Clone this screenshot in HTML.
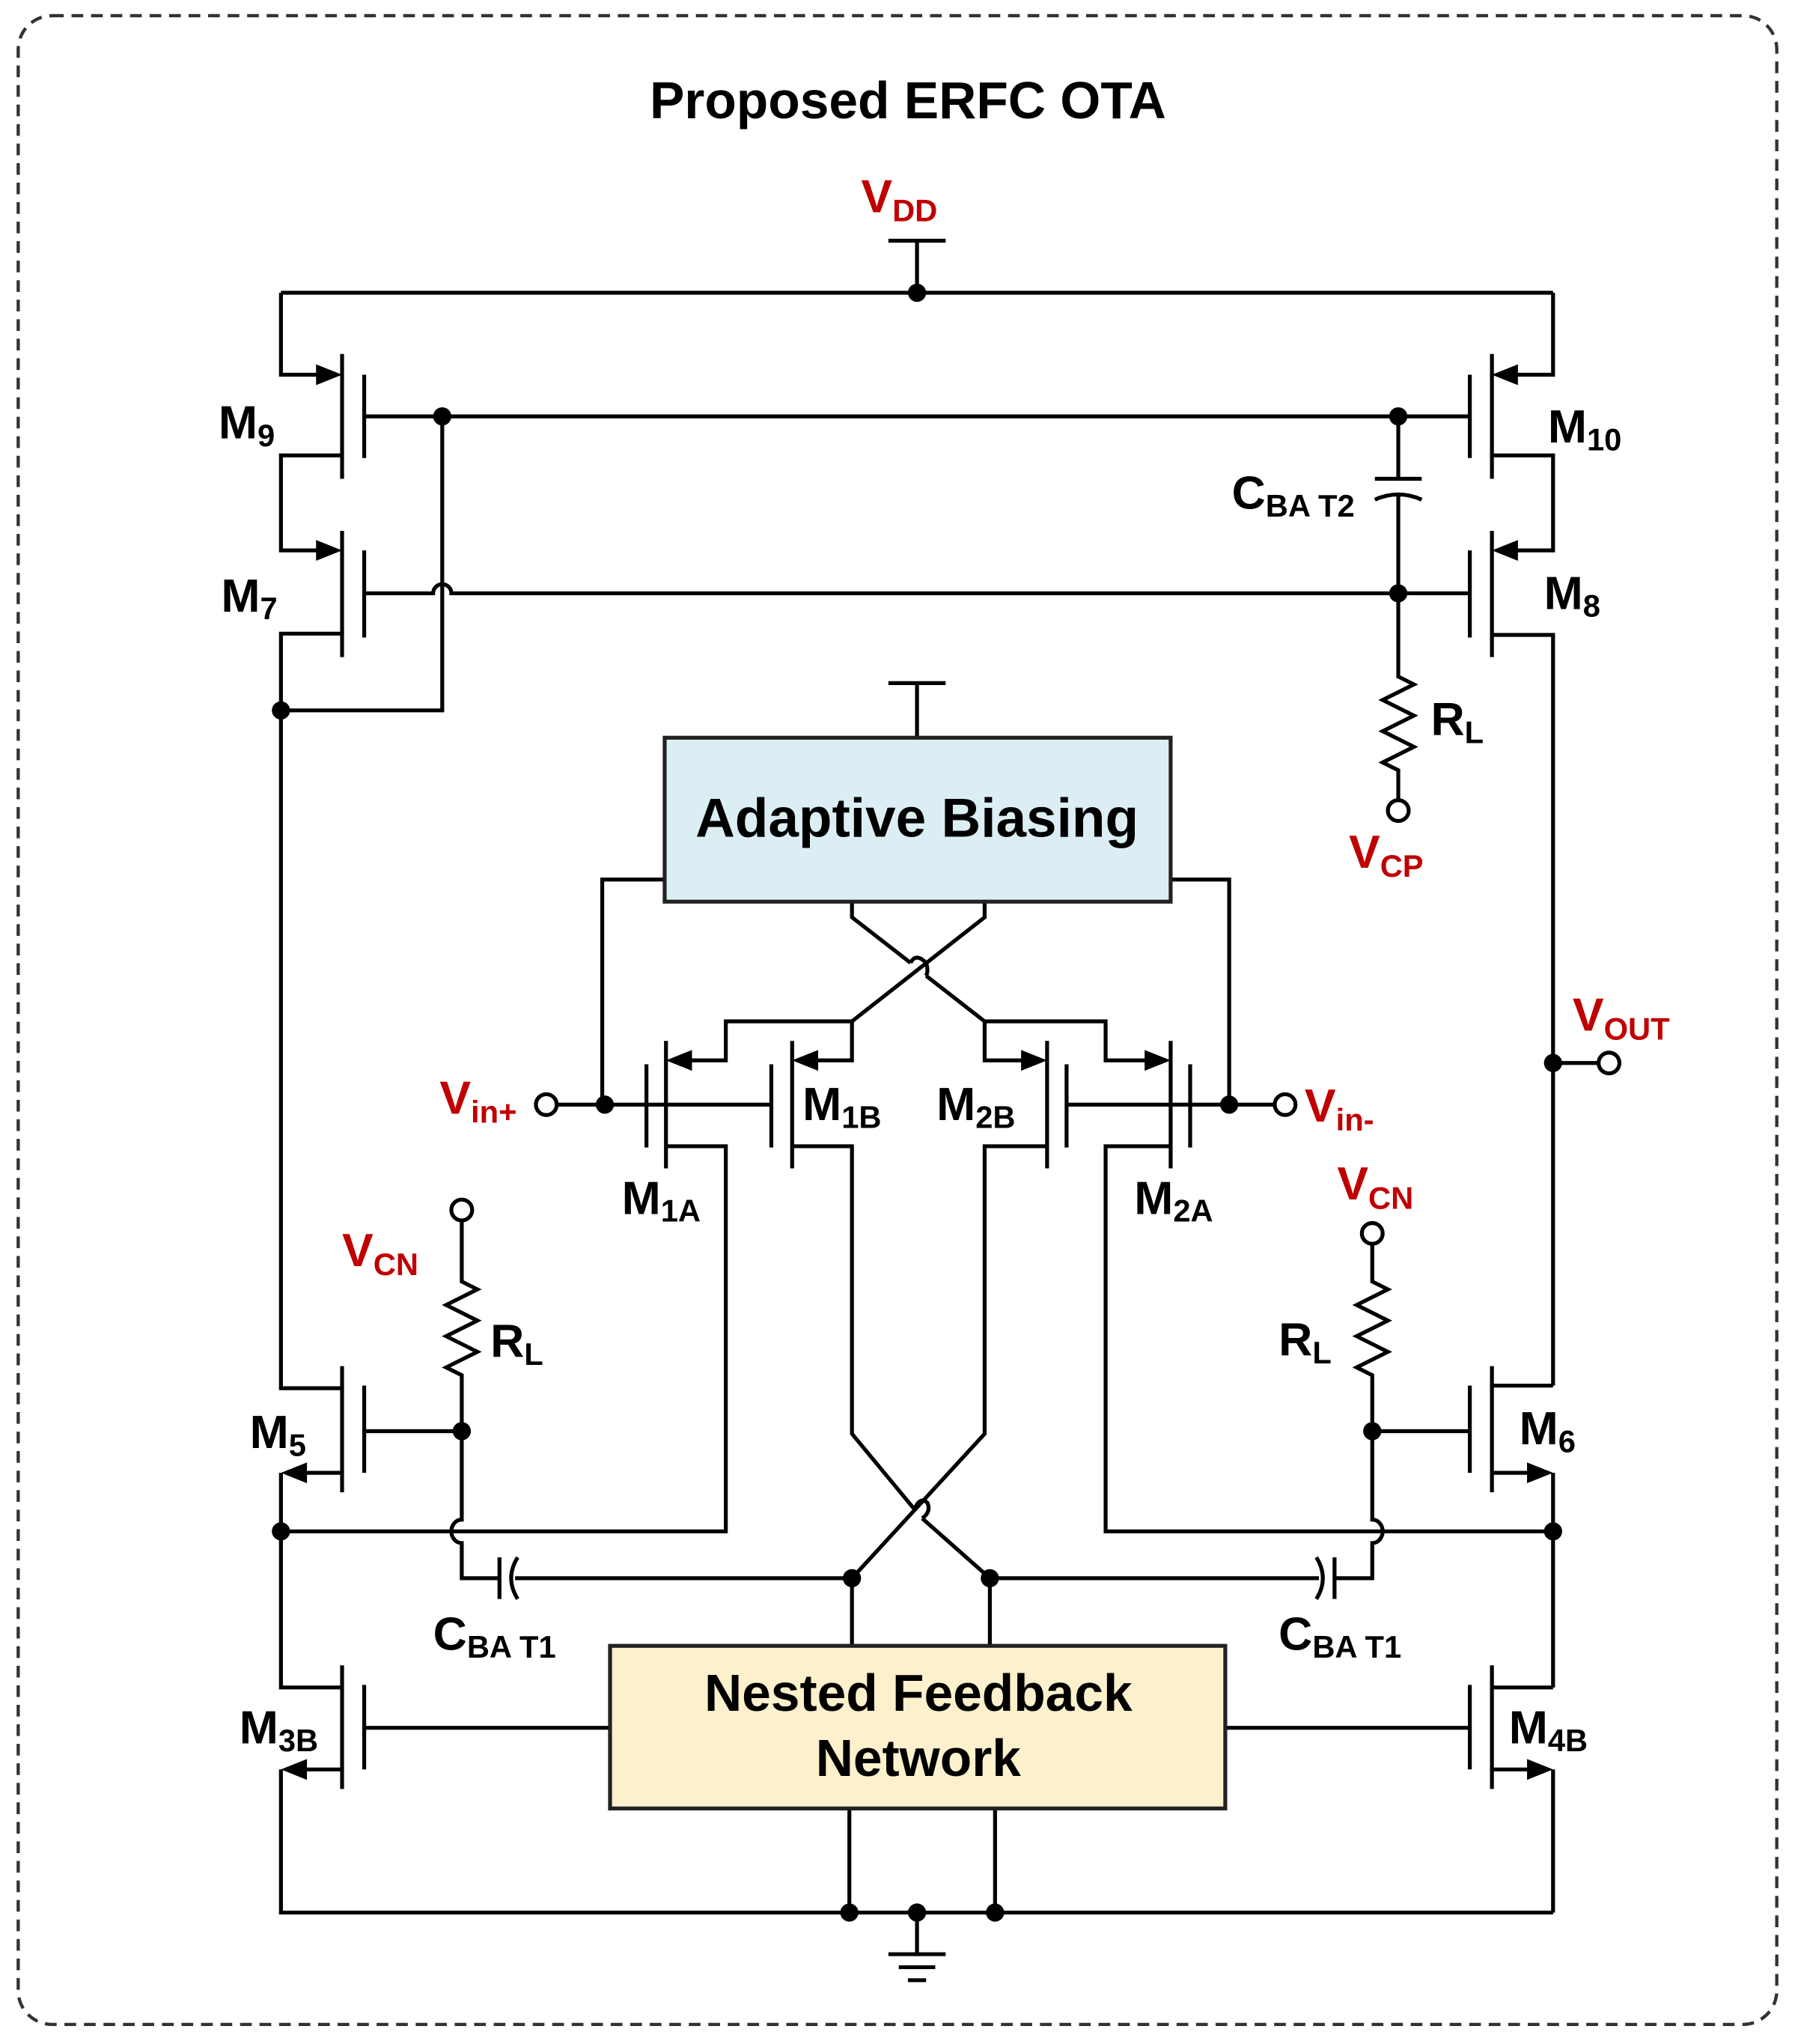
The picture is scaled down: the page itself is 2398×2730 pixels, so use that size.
<!DOCTYPE html>
<html><head><meta charset="utf-8"><style>
html,body{margin:0;padding:0;background:#fff}
svg{display:block}
text{font-family:"Liberation Sans",Arial,sans-serif;font-weight:bold}
</style></head><body>
<svg width="2398" height="2730" viewBox="0 0 1380 1571" xmlns="http://www.w3.org/2000/svg">
<rect x="14" y="12" width="1352" height="1544" rx="26" fill="none" stroke="#333" stroke-width="2.5" stroke-dasharray="9,6"/>
<text x="698" y="91" font-size="40" text-anchor="middle">Proposed ERFC OTA</text>

<g fill="none" stroke="#000" stroke-width="3" stroke-linejoin="miter">
<path d="M683 185H727M705 185V225"/>
<path d="M216 225H1194"/>
<path d="M216 225V288H250M263 272V368M280 288V352M263 350H216V423H250"/>
<path d="M263 408V505M280 423V490M263 487H216V1067H263"/>
<path d="M280 320H1130"/>
<path d="M280 456H333A7 7 0 0 1 347 456H1130"/>
<path d="M340 320V546H216"/>
<path d="M1194 225V288H1160M1147 272V368M1130 288V352M1147 350H1194V423H1160M1147 408V505M1130 423V490M1147 488H1194V1065M1194 1132V1297M1194 1360V1470"/>
<path d="M1075 320V368M1057 368H1093M1057 384Q1075 376 1093 384M1075 380V456"/>
<path d="M1075 456V520L1087 526L1063 538L1087 550L1063 562L1087 574L1063 586L1075 592V615"/>
<path d="M683 525H727M705 525V567"/>
<path d="M511 676H463V849M900 676H945V849"/>
<path d="M655 693V705L700 740M712 750L757 785M757 693V705L655 785"/>
<path d="M700 740Q704 732 712 740 Q714 746 712 750"/>
<path d="M655 785H558V815H525M655 785V815H622M757 785V815H792M757 785H850V815H887"/>
<path d="M512 800V898M497 818V882M609 800V898M593 818V882M805 800V898M820 818V882M900 800V898M915 818V882"/>
<path d="M427 849H593M820 849H981"/>
<path d="M512 881H558V1177H216M609 881H655V1102L703 1160M709 1167L761 1213M805 881H757V1102L655 1213M900 881H850V1177H1194"/>
<path d="M703 1160Q707 1150 713 1155Q716 1162 709 1167"/>
<path d="M355 937V985L367 991L343 1003L367 1015L343 1027L367 1039L343 1051L355 1057V1168A8 9 0 0 0 355 1186V1213H384M384 1197V1229M398 1197Q388 1213 398 1229M396 1213H655"/>
<path d="M263 1050V1147M280 1065V1132M280 1100H355M263 1132H228M216 1132V1177"/>
<path d="M1055 955V985L1067 991L1043 1003L1067 1015L1043 1027L1067 1039L1043 1051L1055 1057V1168A8 9 0 0 1 1055 1186V1213H1026M1026 1197V1229M1012 1197Q1022 1213 1012 1229M1014 1213H761"/>
<path d="M1147 1050V1147M1130 1065V1132M1130 1100H1055M1147 1065H1194M1147 1132H1182"/>
<path d="M1194 817H1230"/>
<path d="M216 1177V1297H263M263 1280V1375M280 1295V1360M280 1328H469M263 1360H228M216 1360V1470H1194"/>
<path d="M1147 1297H1194M1147 1280V1375M1130 1295V1360M1130 1328H942M1147 1360H1182"/>
<path d="M655 1213V1265M761 1213V1265M653 1390V1470M765 1390V1470"/>
<path d="M705 1470V1502M683 1502H727M691 1512H719M698 1522H712"/>
</g>

<g fill="#000">
<polygon points="263,288 243,280 243,296"/>
<polygon points="263,423 243,415 243,431"/>
<polygon points="1147,288 1167,280 1167,296"/>
<polygon points="1147,423 1167,415 1167,431"/>
<polygon points="512,815 532,807 532,823"/>
<polygon points="609,815 629,807 629,823"/>
<polygon points="805,815 785,807 785,823"/>
<polygon points="900,815 880,807 880,823"/>
<polygon points="216,1132 236,1124 236,1140"/>
<polygon points="216,1360 236,1352 236,1368"/>
<polygon points="1194,1132 1174,1124 1174,1140"/>
<polygon points="1194,1360 1174,1352 1174,1368"/>
<circle cx="705" cy="225" r="7"/><circle cx="340" cy="320" r="7"/><circle cx="1075" cy="320" r="7"/>
<circle cx="1075" cy="456" r="7"/><circle cx="216" cy="546" r="7"/><circle cx="465" cy="849" r="7"/>
<circle cx="945" cy="849" r="7"/><circle cx="1194" cy="817" r="7"/><circle cx="355" cy="1100" r="7"/>
<circle cx="1055" cy="1100" r="7"/><circle cx="216" cy="1177" r="7"/><circle cx="1194" cy="1177" r="7"/>
<circle cx="655" cy="1213" r="7"/><circle cx="761" cy="1213" r="7"/><circle cx="653" cy="1470" r="7"/>
<circle cx="705" cy="1470" r="7"/><circle cx="765" cy="1470" r="7"/>
</g>
<g fill="#fff" stroke="#000" stroke-width="3">
<circle cx="1075" cy="623" r="8"/><circle cx="420" cy="849" r="8"/><circle cx="988" cy="849" r="8"/>
<circle cx="1237" cy="817" r="8"/><circle cx="355" cy="930" r="8"/><circle cx="1055" cy="948" r="8"/>
</g>

<rect x="511" y="567" width="389" height="126" fill="#dbeef4" stroke="#222" stroke-width="3"/>
<text x="705" y="643" font-size="42" text-anchor="middle">Adaptive Biasing</text>
<rect x="469" y="1265" width="473" height="125" fill="#fdf0cc" stroke="#222" stroke-width="3"/>
<text x="706" y="1315" font-size="40" text-anchor="middle">Nested Feedback</text>
<text x="706" y="1365" font-size="40" text-anchor="middle">Network</text>

<g font-size="36">
<text x="168" y="337">M<tspan font-size="24" dy="6">9</tspan></text>
<text x="1190" y="340">M<tspan font-size="24" dy="6">10</tspan></text>
<text x="170" y="470">M<tspan font-size="24" dy="6">7</tspan></text>
<text x="1187" y="468">M<tspan font-size="24" dy="6">8</tspan></text>
<text x="478" y="933">M<tspan font-size="24" dy="6">1A</tspan></text>
<text x="617" y="861">M<tspan font-size="24" dy="6">1B</tspan></text>
<text x="720" y="861">M<tspan font-size="24" dy="6">2B</tspan></text>
<text x="872" y="933">M<tspan font-size="24" dy="6">2A</tspan></text>
<text x="192" y="1113">M<tspan font-size="24" dy="6">5</tspan></text>
<text x="1168" y="1110">M<tspan font-size="24" dy="6">6</tspan></text>
<text x="184" y="1340">M<tspan font-size="24" dy="6">3B</tspan></text>
<text x="1160" y="1340">M<tspan font-size="24" dy="6">4B</tspan></text>
<text x="947" y="391">C<tspan font-size="24" dy="6">BA T2</tspan></text>
<text x="1100" y="565">R<tspan font-size="24" dy="6">L</tspan></text>
<text x="377" y="1043">R<tspan font-size="24" dy="6">L</tspan></text>
<text x="983" y="1042">R<tspan font-size="24" dy="6">L</tspan></text>
<text x="333" y="1268">C<tspan font-size="24" dy="6">BA T1</tspan></text>
<text x="983" y="1268">C<tspan font-size="24" dy="6">BA T1</tspan></text>
</g>
<g font-size="36" fill="#c00000">
<text x="662" y="163">V<tspan font-size="24" dy="7">DD</tspan></text>
<text x="1037" y="667">V<tspan font-size="24" dy="7">CP</tspan></text>
<text x="1209" y="792">V<tspan font-size="24" dy="7">OUT</tspan></text>
<text x="338" y="856">V<tspan font-size="24" dy="7">in+</tspan></text>
<text x="1003" y="862">V<tspan font-size="24" dy="7">in-</tspan></text>
<text x="263" y="973">V<tspan font-size="24" dy="7">CN</tspan></text>
<text x="1028" y="922">V<tspan font-size="24" dy="7">CN</tspan></text>
</g>
</svg>
</body></html>
